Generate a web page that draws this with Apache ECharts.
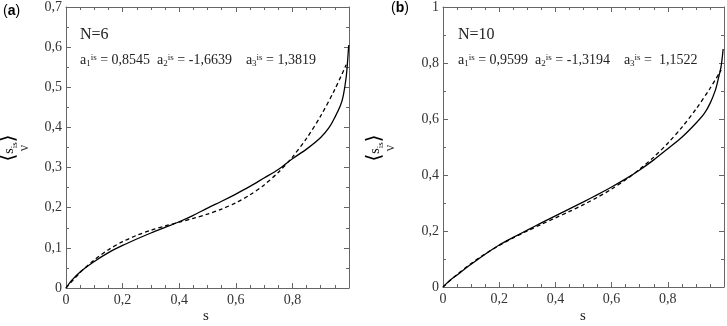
<!DOCTYPE html>
<html><head><meta charset="utf-8">
<script src="https://cdn.jsdelivr.net/npm/echarts@6/dist/echarts.min.js"></script>
<style>html,body{margin:0;padding:0;background:#fff}#c{width:727px;height:326px}</style>
</head><body><div id="c"></div>
<script>
// Panel (a) N=6
const sA_solid = [0,0.02,0.05,0.1,0.15,0.2,0.25,0.3,0.35,0.4,0.45,0.5,0.55,0.6,0.65,0.7,0.75,0.8,0.85,0.9,0.93,0.95,0.97,0.98,0.99,0.995,0.999];
const vA_solid = [0,0.019,0.040,0.066,0.088,0.106,0.122,0.137,0.151,0.165,0.181,0.199,0.216,0.234,0.253,0.274,0.295,0.322,0.346,0.375,0.400,0.425,0.455,0.480,0.525,0.565,0.605];
const sA_dash = [0,0.05,0.1,0.15,0.2,0.25,0.3,0.35,0.4,0.45,0.5,0.55,0.6,0.65,0.7,0.75,0.8,0.85,0.9,0.95,0.99];
const vA_dash = [0,0.0387,0.0702,0.0954,0.1154,0.1312,0.1439,0.1545,0.1640,0.1735,0.1840,0.1966,0.2122,0.2319,0.2568,0.2879,0.3262,0.3728,0.4287,0.4949,0.5560];
// Panel (b) N=10
const sB_solid = [0,0.02,0.05,0.1,0.15,0.2,0.25,0.3,0.35,0.4,0.45,0.5,0.55,0.6,0.65,0.7,0.75,0.8,0.85,0.9,0.93,0.95,0.97,0.98,0.99,0.997];
const vB_solid = [0,0.020,0.043,0.081,0.117,0.150,0.177,0.203,0.229,0.254,0.279,0.304,0.330,0.357,0.386,0.418,0.454,0.494,0.535,0.585,0.620,0.655,0.705,0.745,0.790,0.850];
const sB_dash = [0,0.05,0.1,0.15,0.2,0.25,0.3,0.35,0.4,0.45,0.5,0.55,0.6,0.65,0.7,0.75,0.8,0.85,0.9,0.95,0.99];
const vB_dash = [0,0.0448,0.0839,0.1182,0.1484,0.1755,0.2003,0.2237,0.2466,0.2698,0.2941,0.3205,0.3498,0.3829,0.4206,0.4639,0.5134,0.5702,0.6351,0.7090,0.7751];
const xTicks = {min:0, max:1, interval:0.2};
const yTicksA = {min:0, max:0.7, interval:0.1};
const yTicksB = {min:0, max:1, interval:0.2};

const zip = (s,v) => s.map((x,i)=>[x,v[i]]);
const fmt = v => { const r = Math.round(v*10)/10; return String(r).replace('.',','); };
const axisColor = '#666';
const serif = 'Liberation Serif';
function xAx(grid, pos, labels){
  return {type:'value', gridIndex:grid, position:pos, min:xTicks.min, max:xTicks.max, interval:xTicks.interval,
    axisLine:{show:true, onZero:false, lineStyle:{color:axisColor, width:1}},
    axisTick:{show:true, inside:true, length:5, lineStyle:{color:axisColor}},
    minorTick:{show:true, splitNumber:4, length:3, lineStyle:{color:axisColor}},
    splitLine:{show:false},
    axisLabel:{show:labels, margin:5, fontFamily:serif, fontSize:14, color:'#333',
      formatter: v => (Math.abs(v-1)<1e-9 ? '' : fmt(v))}};
}
function yAx(grid, pos, labels, t, minorSplit){
  return {type:'value', gridIndex:grid, position:pos, min:t.min, max:t.max, interval:t.interval,
    axisLine:{show:true, onZero:false, lineStyle:{color:axisColor, width:1}},
    axisTick:{show:true, inside:true, length:5, lineStyle:{color:axisColor}},
    minorTick:{show:true, splitNumber:minorSplit, length:3, lineStyle:{color:axisColor}},
    splitLine:{show:false},
    axisLabel:{show:labels, margin:4, fontFamily:serif, fontSize:14, color:'#333', formatter: fmt}};
}
const lineS = (xi, yi, data, dashed) => ({type:'line', xAxisIndex:xi, yAxisIndex:yi, data, showSymbol:false, smooth:0.3,
  lineStyle:{color:'#000', width:1.3, type: dashed ? [4,3] : 'solid'}, silent:true, animation:false});

const coefRich = {
  n:{fontFamily:serif, fontSize:14, color:'#222'},
  sup:{fontFamily:serif, fontSize:9, color:'#222', verticalAlign:'top', padding:[0,0,6,0]},
  sub:{fontFamily:serif, fontSize:9, color:'#222', verticalAlign:'bottom', padding:[6,0,0,0]}
};
function coefText(x, y, vals){
  return {type:'text', left:x, top:y, style:{
    text:`{n|a}{sub|1}{sup|is}{n| = ${vals[0]}  a}{sub|2}{sup|is}{n| = ${vals[1]}    a}{sub|3}{sup|is}{n| = ${vals[2]}}`,
    rich:coefRich, fill:'#222'}};
}
function ylabel(x, y){
  return [
    {type:'text', x:x, y:y, rotation:Math.PI/2, style:{
      text:'{b|⟨}{s|s}{i|is}{b|⟩}', align:'center', verticalAlign:'middle',
      rich:{b:{fontFamily:'DejaVu Serif', fontSize:20, color:'#333'}, s:{fontFamily:serif, fontSize:14, color:'#333'}, i:{fontFamily:serif, fontSize:9, color:'#333', verticalAlign:'bottom', padding:[5,0,0,0]}}}},
    {type:'text', x:x+15, y:y, rotation:Math.PI/2, style:{text:'ν', align:'center', verticalAlign:'middle', font:'14px "Liberation Serif"', fill:'#333'}}
  ];
}
const chart = echarts.init(document.getElementById('c'), null, {renderer:'canvas'});
chart.setOption({
  animation:false,
  grid:[{left:66, top:5, width:283, height:283}, {left:443, top:5, width:283, height:282}],
  xAxis:[xAx(0,'bottom',true), xAx(0,'top',false), xAx(1,'bottom',true), xAx(1,'top',false)],
  yAxis:[yAx(0,'left',true,yTicksA,2), yAx(0,'right',false,yTicksA,2), yAx(1,'left',true,yTicksB,2), yAx(1,'right',false,yTicksB,2)],
  series:[
    lineS(0,0,zip(sA_solid,vA_solid),false),
    lineS(0,0,zip(sA_dash,vA_dash),true),
    lineS(2,2,zip(sB_solid,vB_solid),false),
    lineS(2,2,zip(sB_dash,vB_dash),true)
  ],
  graphic:[
    {type:'text', left:3, top:4, style:{text:'{p|(}{b|a}{p|)}', rich:{p:{fontFamily:'Liberation Sans', fontSize:14, color:'#111'}, b:{fontFamily:'Liberation Sans', fontSize:14, fontWeight:'bold', color:'#111'}}}},
    {type:'text', left:391, top:1, style:{text:'{p|(}{b|b}{p|)}', rich:{p:{fontFamily:'Liberation Sans', fontSize:14, color:'#111'}, b:{fontFamily:'Liberation Sans', fontSize:14, fontWeight:'bold', color:'#111'}}}},
    {type:'text', left:80, top:27, style:{text:'N=6', font:'16px "Liberation Serif"', fill:'#222'}},
    {type:'text', left:458, top:27, style:{text:'N=10', font:'16px "Liberation Serif"', fill:'#222'}},
    coefText(80, 53, ['0,8545','-1,6639','1,3819']),
    coefText(458, 53, ['0,9599','-1,3194',' 1,1522']),
    ...ylabel(9, 148),
    ...ylabel(375, 148),
    {type:'text', left:203, top:309, style:{text:'s', font:'15px "Liberation Serif"', fill:'#222'}},
    {type:'text', left:580, top:309, style:{text:'s', font:'15px "Liberation Serif"', fill:'#222'}}
  ]
});
</script></body></html>
